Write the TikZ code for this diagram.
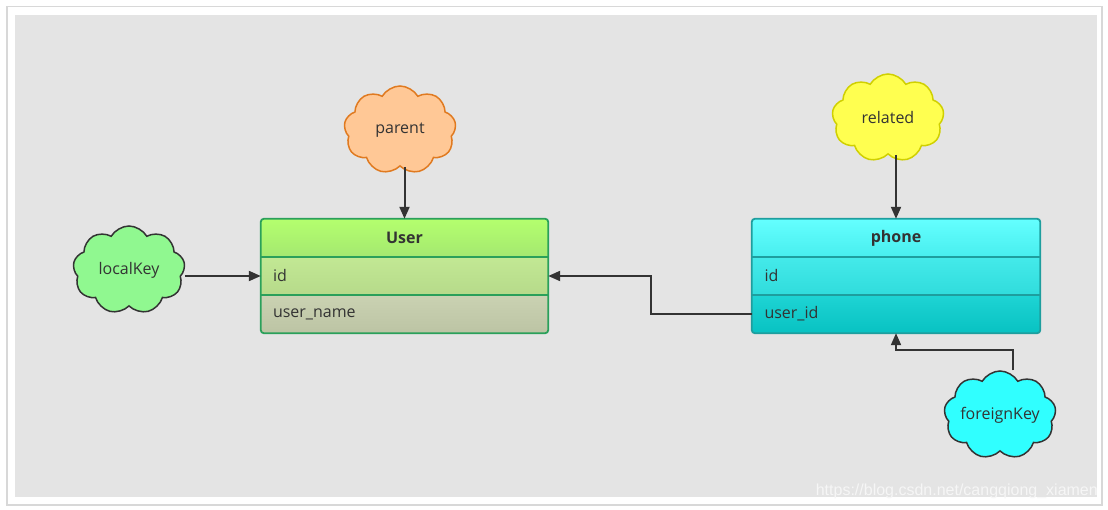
\documentclass[tikz,border=0pt]{standalone}
\usepackage{fontspec}
\setmainfont{Open Sans}
\newfontfamily\wmfont{Liberation Sans}
\usetikzlibrary{shapes.symbols,arrows.meta}
\definecolor{txt}{HTML}{333333}
\definecolor{linec}{HTML}{333333}
\definecolor{ugreen}{HTML}{2AA05A}
\definecolor{pcyan}{HTML}{1E9E9E}
\definecolor{frame}{HTML}{D8D8D8}
\definecolor{bg}{HTML}{E4E4E4}
\definecolor{uhT}{HTML}{B4FF6E}\definecolor{uhB}{HTML}{A4E870}
\definecolor{uiT}{HTML}{C2E894}\definecolor{uiB}{HTML}{B6DA8A}
\definecolor{unT}{HTML}{CAD2B2}\definecolor{unB}{HTML}{BCC4A4}
\definecolor{phT}{HTML}{64FFFF}\definecolor{phB}{HTML}{48EEEE}
\definecolor{piT}{HTML}{44EAEA}\definecolor{piB}{HTML}{30DCDC}
\definecolor{puT}{HTML}{1ED4D4}\definecolor{puB}{HTML}{08C2C2}
\definecolor{parF}{HTML}{FFC896}\definecolor{parD}{HTML}{E07A20}
\definecolor{relF}{HTML}{FFFF50}\definecolor{relD}{HTML}{D0D000}
\definecolor{lkF}{HTML}{90F890}
\definecolor{fkF}{HTML}{30FFFF}
\definecolor{wmc}{HTML}{F6F6F6}
\tikzset{
  row/.style={rectangle, minimum width=287pt, minimum height=38pt, inner sep=0pt, inner xsep=12pt,
    text width=263pt, align=left, text=txt, font=\fontsize{16}{18}\selectfont},
  headrow/.style={row, align=center, font=\fontsize{16}{18}\selectfont\bfseries},
  cloudnode/.style={cloud, cloud puffs=9, cloud puff arc=120, aspect=1.25, draw, line width=1.5pt,
    minimum width=112pt, minimum height=88pt, inner sep=0pt, text=txt, font=\fontsize{16}{18}\selectfont},
  conn/.style={draw=linec, line width=2pt, -{Triangle[length=12pt,width=10pt]}},
}
\newcommand{\ctext}[1]{\makebox[0pt]{#1}}
\begin{document}
\begin{tikzpicture}[x=1pt,y=-1pt]
\useasboundingbox (0,0) rectangle (1108,510);
\fill[white] (0,0) rectangle (1108,510);
\draw[draw=frame, line width=1.2pt] (7,6.5) rectangle (1102,505);
\fill[bg] (15,15) rectangle (1097,497);

% User table
\begin{scope}
\clip[rounded corners=3pt] (261,219) rectangle (548,333);
\node[headrow, top color=uhT, bottom color=uhB] (userHead) at (404.5,238) {User};
\node[row, top color=uiT, bottom color=uiB] (userId) at (404.5,276) {id};
\node[row, top color=unT, bottom color=unB] (userName) at (404.5,314) {user\_name};
\end{scope}
\draw[ugreen, line width=1.8pt] (userHead.south west) -- (userHead.south east);
\draw[ugreen, line width=1.8pt] (userId.south west) -- (userId.south east);
\draw[ugreen, line width=1.8pt, rounded corners=3pt] (userHead.north west) rectangle (userName.south east);

% phone table
\begin{scope}
\clip[rounded corners=3pt] (752,219) rectangle (1040,333);
\node[headrow, minimum width=288pt, top color=phT, bottom color=phB] (phoneHead) at (896,238) {phone};
\node[row, minimum width=288pt, top color=piT, bottom color=piB] (phoneId) at (896,276) {id};
\node[row, minimum width=288pt, top color=puT, bottom color=puB] (phoneUid) at (896,314) {user\_id};
\end{scope}
\draw[pcyan, line width=1.8pt] (phoneHead.south west) -- (phoneHead.south east);
\draw[pcyan, line width=1.8pt] (phoneId.south west) -- (phoneId.south east);
\draw[pcyan, line width=1.8pt, rounded corners=3pt] (phoneHead.north west) rectangle (phoneUid.south east);

% clouds
\node[cloudnode, fill=parF, draw=parD] (parent) at (400,130) {\ctext{parent}};
\node[cloudnode, fill=relF, draw=relD] (related) at (888,118) {\ctext{related}};
\node[cloudnode, fill=lkF, draw=linec] (localKey) at (129,270) {\ctext{localKey}};
\node[cloudnode, fill=fkF, draw=linec] (foreignKey) at (1000,415) {\ctext{foreignKey}};

% connectors
\draw[conn] (parent.south -| userHead.north) -- (userHead.north);
\draw[conn] (related.south -| phoneHead.north) -- (phoneHead.north);
\draw[conn] (localKey.east |- userId.west) -- (userId.west);
\draw[conn] (phoneUid.west) -- ++(-101,0) |- (userId.east);
\draw[conn] ([xshift=13pt]foreignKey.north) -- ++(0,-20) -| (phoneUid.south);

% watermark
\node[anchor=east, inner sep=0pt, text=wmc, font=\wmfont\fontsize{16}{18}\selectfont] (wm) at (1098,491) {https://blog.csdn.net/cangqiong\_xiamen};
\end{tikzpicture}
\end{document}
